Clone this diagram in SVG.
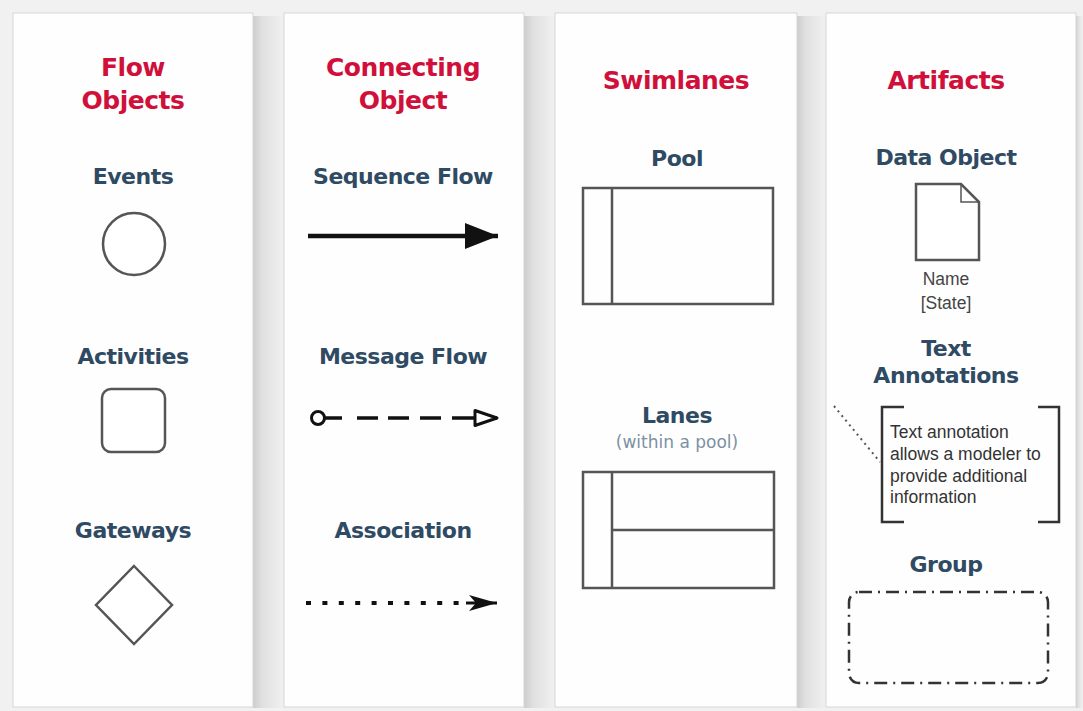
<svg xmlns="http://www.w3.org/2000/svg" width="1083" height="711" viewBox="0 0 1083 711">
<style>
.bg{fill:#f1f1f1}
.panel{fill:#fefefe;stroke:#d6d6d6;stroke-width:1}
.h{font-family:"DejaVu Sans",Verdana,sans-serif;font-weight:bold;font-size:25px;fill:#d0103a;text-anchor:middle;letter-spacing:-0.5px}
.s{font-family:"DejaVu Sans",Verdana,sans-serif;font-weight:bold;font-size:22px;fill:#2f4a63;text-anchor:middle;letter-spacing:-0.5px}
.sub{font-family:"DejaVu Sans",Verdana,sans-serif;font-size:17px;fill:#7d90a3;text-anchor:middle}
.note{font-family:"Liberation Sans",Arial,sans-serif;font-size:17.5px;fill:#333}
.cap{font-family:"Liberation Sans",Arial,sans-serif;font-size:17.5px;fill:#444;text-anchor:middle}
.shape{fill:#fff;stroke:#555;stroke-width:2.5}
.lane{fill:none;stroke:#555;stroke-width:2.5}
.br{fill:none;stroke:#333;stroke-width:2.5}
</style>
<defs>
<linearGradient id="shadow" x1="0" x2="1" y1="0" y2="0">
<stop offset="0" stop-color="#cdcdcd"/>
<stop offset="0.3" stop-color="#e0e0e0"/>
<stop offset="1" stop-color="#f1f1f1"/>
</linearGradient>
<marker id="seqArrow" markerUnits="userSpaceOnUse" markerWidth="34" markerHeight="26" refX="33" refY="13" orient="auto" viewBox="0 0 34 26">
<path d="M0,0 L33,13 L0,26 Z" fill="#111"/>
</marker>
<marker id="msgArrow" markerUnits="userSpaceOnUse" markerWidth="28" markerHeight="20" refX="25" refY="10" orient="auto" viewBox="0 0 28 20">
<path d="M3,2.5 L25,10 L3,17.5 Z" fill="#fff" stroke="#111" stroke-width="3" stroke-linejoin="round"/>
</marker>
<marker id="assocArrow" markerUnits="userSpaceOnUse" markerWidth="30" markerHeight="18" refX="29" refY="9" orient="auto" viewBox="0 0 30 18">
<path d="M1,1 L29,9 L1,17 L8,9 Z" fill="#111"/>
</marker>
</defs>
<rect class="bg" x="0" y="0" width="1083" height="711"/>
<g id="panel-shadows">
<rect x="253" y="16" width="31" height="692" fill="url(#shadow)"/>
<rect x="524" y="16" width="31" height="692" fill="url(#shadow)"/>
<rect x="797" y="16" width="29" height="692" fill="url(#shadow)"/>
<rect x="1076" y="16" width="7" height="692" fill="url(#shadow)"/>
</g>
<g id="panel-flow-objects">
<rect class="panel" x="13" y="13" width="240" height="694"/>
<text class="h" x="133" y="76">Flow</text>
<text class="h" x="133" y="109">Objects</text>
</g>
<g id="panel-connecting-object">
<rect class="panel" x="284" y="13" width="240" height="694"/>
<text class="h" x="403" y="76">Connecting</text>
<text class="h" x="403" y="109">Object</text>
</g>
<g id="panel-swimlanes">
<rect class="panel" x="555" y="13" width="242" height="694"/>
<text class="h" x="676" y="89">Swimlanes</text>
</g>
<g id="panel-artifacts">
<rect class="panel" x="826" y="13" width="250" height="694"/>
<text class="h" x="946" y="89">Artifacts</text>
</g>
<g id="node-events">
<text class="s" x="133" y="184">Events</text>
<circle class="shape" cx="134" cy="244" r="31"/>
</g>
<g id="node-activities">
<text class="s" x="133" y="364">Activities</text>
<rect class="shape" x="102" y="389" width="63" height="63" rx="9"/>
</g>
<g id="node-gateways">
<text class="s" x="133" y="538">Gateways</text>
<polygon class="shape" points="134,566 172,605 134,644 96,605"/>
</g>
<g id="label-sequence-flow"><text class="s" x="403" y="184">Sequence Flow</text></g>
<g id="label-message-flow"><text class="s" x="403" y="364">Message Flow</text></g>
<g id="label-association"><text class="s" x="403" y="538">Association</text></g>
<g id="node-pool">
<text class="s" x="677" y="166">Pool</text>
<rect class="lane" x="583" y="188" width="190" height="116"/>
<line class="lane" x1="612" y1="188" x2="612" y2="304"/>
</g>
<g id="node-lanes">
<text class="s" x="677" y="423">Lanes</text>
<text class="sub" x="677" y="448">(within a pool)</text>
<rect class="lane" x="583" y="472" width="191" height="116"/>
<line class="lane" x1="612" y1="472" x2="612" y2="588"/>
<line class="lane" x1="612" y1="530" x2="774" y2="530"/>
</g>
<g id="node-data-object">
<text class="s" x="946" y="165">Data Object</text>
<path class="shape" d="M916,184 L961,184 L979,202 L979,260 L916,260 Z" stroke-width="2"/>
<path d="M961,184 L961,202 L979,202" fill="none" stroke="#555" stroke-width="1.5"/>
<text class="cap" x="946" y="285">Name</text>
<text class="cap" x="946" y="309">[State]</text>
</g>
<g id="node-text-annotation">
<text class="s" x="946" y="356">Text</text>
<text class="s" x="946" y="383">Annotations</text>
<path class="br" d="M904,407 L882,407 L882,522 L904,522"/>
<path class="br" d="M1038,407 L1059,407 L1059,522 L1038,522"/>
<text class="note" x="890" y="438">Text annotation</text>
<text class="note" x="890" y="460">allows a modeler to</text>
<text class="note" x="890" y="482">provide additional</text>
<text class="note" x="890" y="503">information</text>
</g>
<g id="node-group">
<text class="s" x="946" y="572">Group</text>
<rect x="849" y="592" width="199" height="91" rx="10" fill="none" stroke="#333" stroke-width="2.5" stroke-dasharray="13 6 2 6"/>
</g>
<g id="connectors">
<line x1="308" y1="236" x2="498" y2="236" stroke="#111" stroke-width="4.5" marker-end="url(#seqArrow)"/>
<circle cx="318" cy="418" r="6.5" fill="#fff" stroke="#111" stroke-width="3"/>
<path d="M325,418 L342,418 M357,418 L378,418 M388,418 L409,418 M420,418 L441,418 M452,418 L497,418" fill="none" stroke="#111" stroke-width="3.5" marker-end="url(#msgArrow)"/>
<line x1="306" y1="603" x2="462" y2="603" stroke="#111" stroke-width="4" stroke-dasharray="5 11.4"/>
<line x1="466" y1="603" x2="497" y2="603" stroke="#111" stroke-width="3" marker-end="url(#assocArrow)"/>
<line x1="834" y1="406" x2="880" y2="462" stroke="#555" stroke-width="2" stroke-dasharray="2 4"/>
</g>
</svg>
